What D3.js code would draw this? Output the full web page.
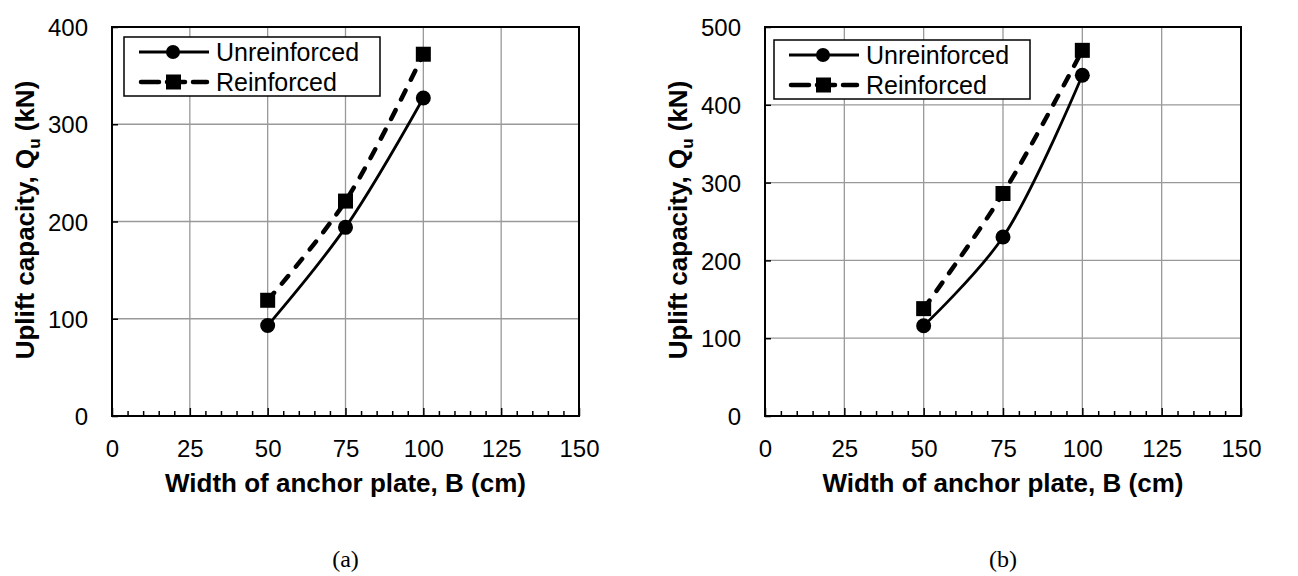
<!DOCTYPE html>
<html>
<head>
<meta charset="utf-8">
<script src="https://cdn.jsdelivr.net/npm/d3@7"></script>
<style>
  body { margin: 0; background: #fff; }
  svg { display: block; font-family: "Liberation Sans", Arial, sans-serif; }
  .grid line { stroke: #999; stroke-width: 1.3; }
  .tick text { font-size: 24px; fill: #000; }
  .axtitle { font-size: 26px; font-weight: bold; }
  .caption { font-family: "Liberation Serif", "Times New Roman", serif; font-size: 24px; }
</style>
</head>
<body>
<script>
//data
var widths = [50, 75, 100];
var unreinforcedA = [93, 194, 327];
var reinforcedA = [119, 221, 372];
var unreinforcedB = [116, 230, 438];
var reinforcedB = [138, 286, 470];
var xTicks = [0, 25, 50, 75, 100, 125, 150];
var yTicksA = [0, 100, 200, 300, 400];
var yTicksB = [0, 100, 200, 300, 400, 500];
var seriesNames = ["Unreinforced", "Reinforced"];

var svg = d3.select("body").append("svg")
    .attr("width", 1298)
    .attr("height", 576);

//draw one panel
function drawPanel(opt){
    var x = d3.scaleLinear().domain([0, 150]).range([opt.left, opt.right]);
    var y = d3.scaleLinear().domain([0, opt.yMax]).range([416, 27]);
    var g = svg.append("g");

    //gridlines
    var grid = g.append("g").attr("class", "grid");
    grid.selectAll(".gx").data(xTicks.slice(1, -1)).enter().append("line")
        .attr("x1", d => x(d)).attr("x2", d => x(d))
        .attr("y1", y(0)).attr("y2", y(opt.yMax));
    grid.selectAll(".gy").data(opt.yTicks.slice(1, -1)).enter().append("line")
        .attr("x1", x(0)).attr("x2", x(150))
        .attr("y1", d => y(d)).attr("y2", d => y(d));

    //frame
    g.append("rect")
        .attr("x", x(0)).attr("y", y(opt.yMax))
        .attr("width", x(150) - x(0)).attr("height", y(0) - y(opt.yMax))
        .attr("fill", "none").attr("stroke", "#000").attr("stroke-width", 2);

    //x axis: minor ticks every 5, labels on the majors
    var xAxis = d3.axisBottom(x).tickValues(d3.range(0, 151, 5))
        .tickSize(-5).tickFormat(d => xTicks.indexOf(d) >= 0 ? d : "");
    var ax = g.append("g").attr("transform", "translate(0," + y(0) + ")").call(xAxis);
    ax.select(".domain").remove();
    ax.selectAll(".tick line").attr("stroke", "#000").attr("stroke-width", 1.5)
        .attr("y2", d => xTicks.indexOf(d) >= 0 ? -8 : -5);
    ax.selectAll(".tick text").attr("y", 41).attr("dy", null);

    var yAxis = d3.axisLeft(y).tickValues(opt.yTicks).tickSize(-6);
    var ay = g.append("g").attr("transform", "translate(" + x(0) + ",0)").call(yAxis);
    ay.select(".domain").remove();
    ay.selectAll(".tick line").attr("stroke", "#000").attr("stroke-width", 1.5);
    ay.selectAll(".tick text").attr("x", -24).attr("dy", "0.36em");

    //series
    var line = d3.line().curve(d3.curveCatmullRom.alpha(0.5))
        .x(d => x(d[0])).y(d => y(d[1]));
    var uData = widths.map((w, i) => [w, opt.unr[i]]);
    var rData = widths.map((w, i) => [w, opt.rei[i]]);

    g.append("path").datum(rData).attr("d", line)
        .attr("fill", "none").attr("stroke", "#000").attr("stroke-width", 4.5)
        .attr("stroke-dasharray", "10,12").attr("stroke-linecap", "round");
    g.append("path").datum(uData).attr("d", line)
        .attr("fill", "none").attr("stroke", "#000").attr("stroke-width", 2.8);

    g.selectAll(".sq").data(rData).enter().append("rect")
        .attr("x", d => x(d[0]) - 7.5).attr("y", d => y(d[1]) - 7.5)
        .attr("width", 15).attr("height", 15).attr("fill", "#000");
    g.selectAll(".ci").data(uData).enter().append("circle")
        .attr("cx", d => x(d[0])).attr("cy", d => y(d[1]))
        .attr("r", 7.5).attr("fill", "#000");

    //legend
    var lx = opt.legX, ly = opt.legY;
    var leg = g.append("g");
    leg.append("rect").attr("x", lx).attr("y", ly).attr("width", 256).attr("height", 59)
        .attr("fill", "#fff").attr("stroke", "#000").attr("stroke-width", 1.5);
    seriesNames.forEach(function(name, i){
        var cy = ly + 15 + i * 30;
        var l = leg.append("line").attr("x1", lx + 15).attr("x2", lx + 85)
            .attr("y1", cy).attr("y2", cy).attr("stroke", "#000");
        if (i == 0) {
            l.attr("stroke-width", 2.8);
            leg.append("circle").attr("cx", lx + 49).attr("cy", cy).attr("r", 7);
        } else {
            l.attr("stroke-width", 4.5).attr("stroke-dasharray", "18,8").attr("stroke-linecap", "round")
                .attr("x1", lx + 17).attr("x2", lx + 83);
            leg.append("rect").attr("x", lx + 42).attr("y", cy - 7.5).attr("width", 15).attr("height", 15);
        }
        leg.append("text").attr("x", lx + 92).attr("y", cy + 9)
            .style("font-size", "25px").text(name);
    });

    //axis titles
    var cx = (opt.left + opt.right) / 2;
    g.append("text").attr("class", "axtitle").attr("x", cx).attr("y", 492)
        .attr("text-anchor", "middle").text("Width of anchor plate, B (cm)");
    var yt = g.append("text").attr("class", "axtitle")
        .attr("transform", "translate(" + opt.yTitleX + ",220) rotate(-90)")
        .attr("text-anchor", "middle");
    yt.append("tspan").text("Uplift capacity, Q");
    yt.append("tspan").attr("dy", 6).style("font-size", "17px").text("u");
    yt.append("tspan").attr("dy", -6).text(" (kN)");

    g.append("text").attr("class", "caption").attr("x", cx).attr("y", 567)
        .attr("text-anchor", "middle").text(opt.caption);
}

drawPanel({left: 112, right: 579, yMax: 400, yTicks: yTicksA,
    unr: unreinforcedA, rei: reinforcedA, legX: 124, legY: 37, yTitleX: 34, caption: "(a)"});
drawPanel({left: 765, right: 1241, yMax: 500, yTicks: yTicksB,
    unr: unreinforcedB, rei: reinforcedB, legX: 774, legY: 40, yTitleX: 687, caption: "(b)"});
</script>
</body>
</html>
